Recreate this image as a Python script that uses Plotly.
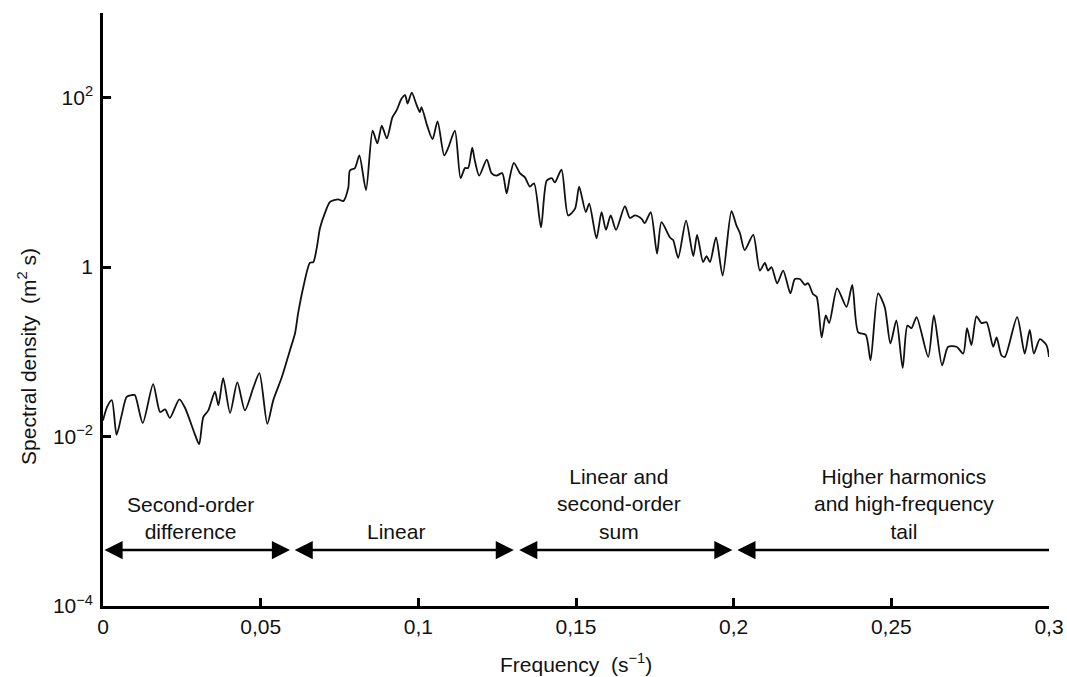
import plotly.graph_objects as go

# ---- data ----
freq = [0.0000, 0.0013, 0.0028, 0.0043, 0.0059, 0.0075, 0.0091, 0.0101, 0.0126, 0.0159,
        0.0181, 0.0197, 0.0212, 0.0242, 0.0260, 0.0292, 0.0305, 0.0318, 0.0334, 0.0355,
        0.0366, 0.0381, 0.0403, 0.0426, 0.0450, 0.0477, 0.0496, 0.0521, 0.0540, 0.0567,
        0.0593, 0.0609, 0.0619, 0.0635, 0.0656, 0.0667, 0.0678, 0.0688, 0.0704, 0.0720,
        0.0746, 0.0762, 0.0778, 0.0783, 0.0799, 0.0813, 0.0834, 0.0855, 0.0870, 0.0884,
        0.0900, 0.0918, 0.0931, 0.0947, 0.0958, 0.0966, 0.0979, 0.0995, 0.1005, 0.1010,
        0.1028, 0.1045, 0.1061, 0.1082, 0.1095, 0.1116, 0.1134, 0.1148, 0.1158, 0.1171,
        0.1179, 0.1193, 0.1217, 0.1232, 0.1248, 0.1266, 0.1280, 0.1290, 0.1303, 0.1322,
        0.1338, 0.1354, 0.1367, 0.1389, 0.1407, 0.1423, 0.1433, 0.1454, 0.1475, 0.1497,
        0.1510, 0.1531, 0.1542, 0.1565, 0.1581, 0.1595, 0.1610, 0.1627, 0.1655, 0.1671,
        0.1687, 0.1708, 0.1718, 0.1737, 0.1757, 0.1771, 0.1798, 0.1808, 0.1824, 0.1849,
        0.1872, 0.1884, 0.1903, 0.1914, 0.1925, 0.1944, 0.1965, 0.1993, 0.2009, 0.2020,
        0.2035, 0.2062, 0.2083, 0.2099, 0.2109, 0.2120, 0.2138, 0.2157, 0.2180, 0.2194,
        0.2210, 0.2226, 0.2236, 0.2252, 0.2263, 0.2279, 0.2292, 0.2303, 0.2328, 0.2358,
        0.2376, 0.2395, 0.2419, 0.2434, 0.2458, 0.2479, 0.2497, 0.2516, 0.2536, 0.2551,
        0.2564, 0.2580, 0.2617, 0.2635, 0.2661, 0.2680, 0.2707, 0.2728, 0.2740, 0.2754,
        0.2770, 0.2786, 0.2802, 0.2823, 0.2834, 0.2849, 0.2860, 0.2899, 0.2923, 0.2939,
        0.2952, 0.2971, 0.2992, 0.3000]

log10_density = [-1.81, -1.65, -1.57, -1.98, -1.75, -1.53, -1.51, -1.51, -1.84, -1.38,
                 -1.71, -1.68, -1.78, -1.56, -1.66, -1.98, -2.09, -1.77, -1.69, -1.47,
                 -1.63, -1.31, -1.72, -1.36, -1.69, -1.42, -1.25, -1.85, -1.57, -1.30,
                 -0.98, -0.78, -0.54, -0.24, 0.05, 0.06, 0.23, 0.46, 0.64, 0.77,
                 0.80, 0.78, 0.94, 1.14, 1.17, 1.32, 0.91, 1.61, 1.46, 1.67,
                 1.52, 1.77, 1.85, 1.99, 2.03, 1.93, 2.06, 1.91, 1.83, 1.89,
                 1.67, 1.51, 1.72, 1.32, 1.41, 1.61, 1.05, 1.17, 1.17, 1.41,
                 1.26, 1.08, 1.27, 1.11, 1.08, 1.11, 0.87, 1.06, 1.23, 1.11,
                 1.06, 0.95, 0.99, 0.47, 1.02, 1.05, 1.00, 1.15, 0.61, 0.69,
                 0.95, 0.65, 0.75, 0.34, 0.65, 0.44, 0.61, 0.44, 0.72, 0.58,
                 0.61, 0.57, 0.52, 0.65, 0.16, 0.53, 0.35, 0.32, 0.11, 0.55,
                 0.13, 0.38, 0.06, 0.13, 0.06, 0.35, -0.10, 0.66, 0.49, 0.40,
                 0.20, 0.38, -0.04, 0.05, -0.04, 0.00, -0.19, -0.04, -0.31, -0.14,
                 -0.14, -0.21, -0.19, -0.32, -0.35, -0.83, -0.57, -0.66, -0.25, -0.47,
                 -0.21, -0.77, -0.80, -1.10, -0.31, -0.47, -0.90, -0.63, -1.19, -0.69,
                 -0.72, -0.59, -1.06, -0.57, -1.16, -0.94, -0.94, -1.02, -0.72, -0.92,
                 -0.58, -0.66, -0.65, -0.94, -0.83, -1.04, -1.06, -0.59, -1.02, -0.74,
                 -1.02, -0.85, -0.92, -1.06]

density = [10 ** v for v in log10_density]

x_tick_vals = [0, 0.05, 0.1, 0.15, 0.2, 0.25, 0.3]
x_tick_text = ["0", "0,05", "0,1", "0,15", "0,2", "0,25", "0,3"]
y_tick_vals = [1e-4, 1e-2, 1, 1e2]
y_tick_text = ["10<sup>\u22124</sup>", "10<sup>\u22122</sup>", "1", "10<sup>2</sup>"]

region_start = [0.0000, 0.0603, 0.1315, 0.2007]
region_end = [0.0593, 0.1303, 0.1996, 0.3000]
region_sides = ["end+start", "end+start", "end+start", "start"]
region_labels = ["Second-order<br>difference", "Linear",
                 "Linear and<br>second-order<br>sum",
                 "Higher harmonics<br>and high-frequency<br>tail"]
region_label_x = [0.0276, 0.0928, 0.1636, 0.2540]
arrow_level = -3.34  # log10 of the arrow height

FONT = "Liberation Sans, Arial, sans-serif"
FS = 21

fig = go.Figure()
fig.add_trace(go.Scatter(
    x=freq, y=density, mode="lines",
    line=dict(color="#111111", width=1.8, shape="spline", smoothing=0.7),
    showlegend=False, hoverinfo="skip"))

annotations = []
for s, e, side in zip(region_start, region_end, region_sides):
    annotations.append(dict(
        x=e, y=arrow_level, ax=s, ay=arrow_level, xref="x", yref="y",
        axref="x", ayref="y", text="", showarrow=True,
        arrowside=side, arrowhead=2, startarrowhead=2,
        arrowsize=1.45, startarrowsize=1.45, arrowwidth=2.5,
        arrowcolor="#000000"))
for lx, lab in zip(region_label_x, region_labels):
    annotations.append(dict(
        x=lx, y=arrow_level, xref="x", yref="y", text=lab, showarrow=False,
        xanchor="center", yanchor="bottom", yshift=5,
        font=dict(family=FONT, size=FS, color="#111111")))
annotations.append(dict(
    x=-0.0803, y=0.42, xref="paper", yref="paper", textangle=-90,
    text="Spectral density  (m<sup>2</sup> s)", showarrow=False,
    xanchor="center", yanchor="middle",
    font=dict(family=FONT, size=FS, color="#111111")))
annotations.append(dict(
    x=0.5, y=-0.096, xref="paper", yref="paper",
    text="Frequency  (s<sup>\u22121</sup>)", showarrow=False,
    xanchor="center", yanchor="middle",
    font=dict(family=FONT, size=FS, color="#111111")))

fig.update_layout(
    width=1067, height=677,
    margin=dict(l=103, r=18, t=13, b=71),
    paper_bgcolor="white", plot_bgcolor="white",
    font=dict(family=FONT, size=FS, color="#111111"),
    annotations=annotations,
    xaxis=dict(range=[0, 0.3], tickvals=x_tick_vals, ticktext=x_tick_text,
               ticks="inside", ticklen=8, tickwidth=2.5, tickcolor="black",
               showline=True, linecolor="black", linewidth=2.5, automargin=False,
               showgrid=False, zeroline=False, ticklabelstandoff=0),
    yaxis=dict(type="log", range=[-4, 3], tickvals=y_tick_vals, ticktext=y_tick_text,
               ticks="inside", ticklen=8, tickwidth=2.5, tickcolor="black",
               showline=True, linecolor="black", linewidth=2.5, automargin=False,
               showgrid=False, zeroline=False, ticklabelstandoff=3),
)

fig.write_html("out.html", config={"displayModeBar": False},
               post_script="document.body.style.margin='0';document.body.style.overflow='hidden';")
